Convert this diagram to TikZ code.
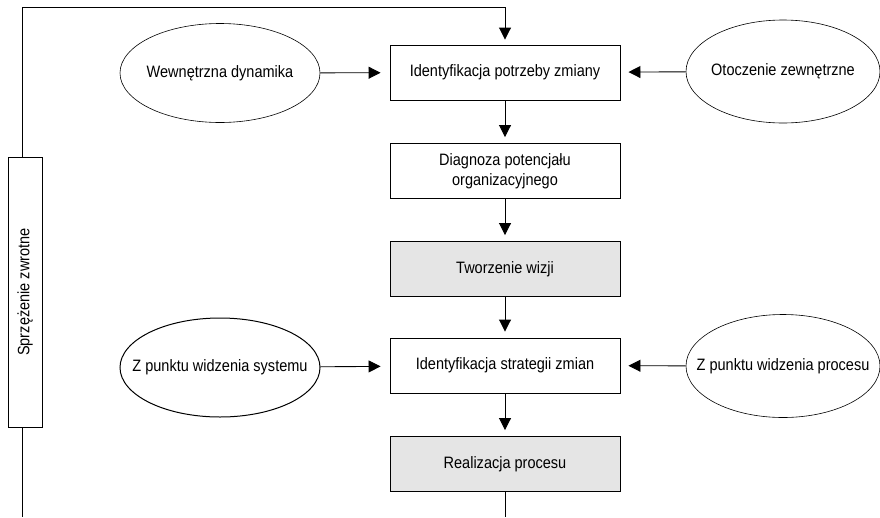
\documentclass[tikz,border=0pt]{standalone}
\usepackage{fontspec}
\setmainfont{Liberation Sans}[FakeStretch=0.88]
\usetikzlibrary{arrows.meta,shapes.geometric}

\newcommand{\wsrodku}[1]{\makebox[0pt]{#1}}

\tikzset{
  etap/.style={draw, line width=0.9pt, minimum width=230pt, minimum height=55pt, align=center},
  etapszary/.style={etap, fill=black!10},
  czynnik/.style={draw, ellipse, inner sep=0pt, line width=0.6pt, minimum width=200pt, minimum height=99pt},
  strz/.style={line width=0.9pt, shorten >=6pt, -{Triangle[length=12pt,width=12pt]}}
}

\begin{document}
\begin{tikzpicture}[x=1pt, y=-1pt, font=\fontsize{16.5}{20}\selectfont]
  \useasboundingbox (0,0) rectangle (880,517);

  % main stages
  \node[etap] (idpotrz) at (505,72.5) {Identyfikacja potrzeby zmiany};
  \node[etap] (diagnoza) at (505,171) {Diagnoza potencjału\\organizacyjnego};
  \node[etapszary] (wizja) at (505,269) {Tworzenie wizji};
  \node[etap] (strategia) at (505,365.5) {Identyfikacja strategii zmian};
  \node[etapszary] (realizacja) at (505,464) {Realizacja procesu};

  \draw[strz] (idpotrz) -- (diagnoza);
  \draw[strz] (diagnoza) -- (wizja);
  \draw[strz] (wizja) -- (strategia);
  \draw[strz] (strategia) -- (realizacja);

  % sources of change
  \node[czynnik] (wewn) at (220,73) {\wsrodku{Wewnętrzna dynamika}};
  \node[czynnik, minimum width=194pt, minimum height=103pt] (otocz) at (783,71.5) {\wsrodku{Otoczenie zewnętrzne}};
  \draw[strz, shorten >=9pt] (wewn) -- (idpotrz);
  \draw[strz, shorten >=8pt] (otocz) -- (idpotrz);

  % points of view
  \node[czynnik, line width=1pt] (system) at (220,367.5) {\wsrodku{Z punktu widzenia systemu}};
  \node[czynnik, minimum width=194pt, minimum height=103pt] (proces) at (783,366) {\wsrodku{Z punktu widzenia procesu}};
  \draw[strz, shorten >=9pt] (system) -- (strategia);
  \draw[strz, shorten >=8pt] (proces) -- (strategia);

  % feedback
  \node[draw, line width=0.9pt, minimum width=270pt, minimum height=34pt, rotate=90] (feedback) at (25,292) {Sprzężenie zwrotne};
  \coordinate (fbtop) at (22,7);
  \coordinate (fbbot) at (22,517);
  \coordinate (kon) at (505,517);
  \draw[strz, shorten >=5pt] (feedback.east -| fbtop) -- (fbtop) -| (idpotrz.north);
  \draw[line width=0.9pt] (feedback.west -| fbbot) -- (fbbot);
  \draw[line width=0.9pt] (realizacja.south) -- (kon);

\end{tikzpicture}
\end{document}
